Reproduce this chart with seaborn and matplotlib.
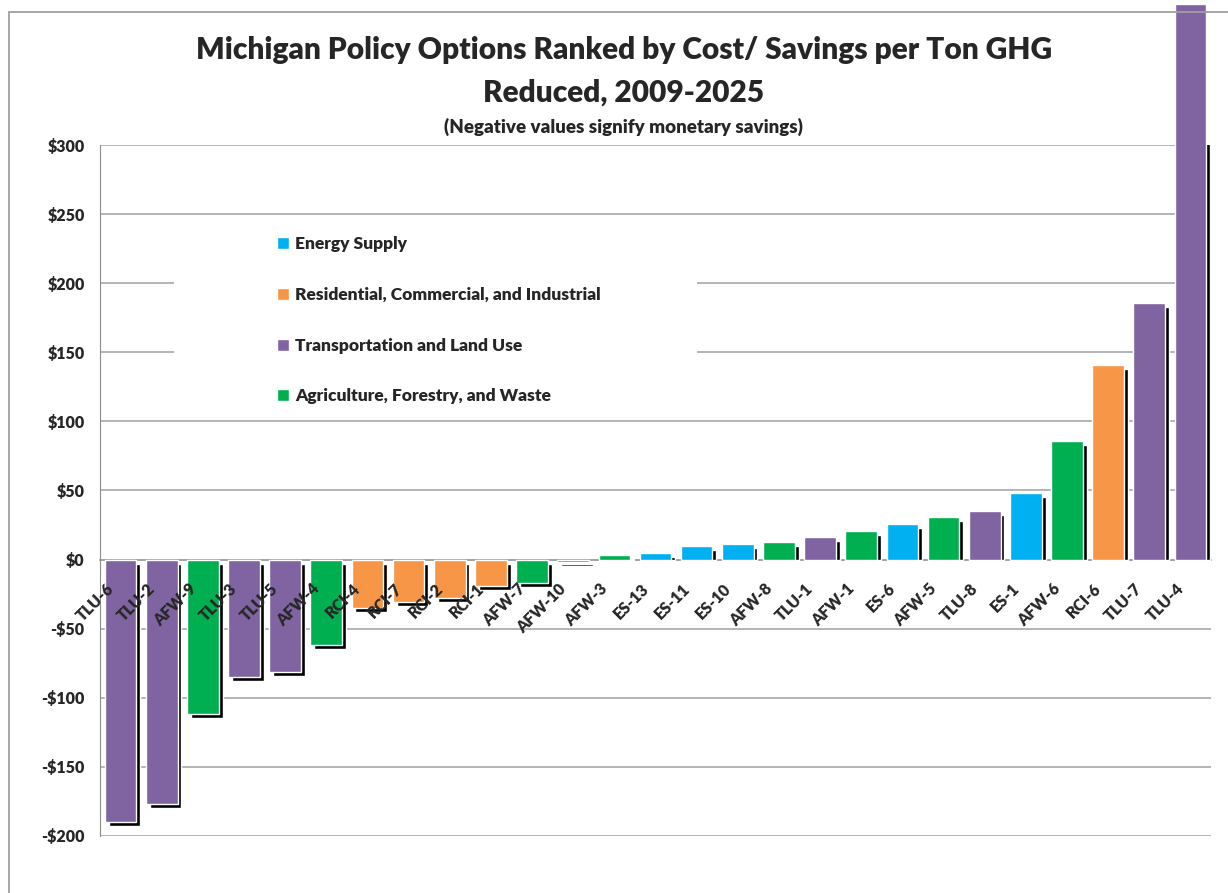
import matplotlib
matplotlib.use("Agg")
import matplotlib.pyplot as plt
import matplotlib.transforms as mtransforms
from matplotlib.patches import Rectangle
import seaborn as sns
import numpy as np
import pandas as pd

# policy options, ranked from biggest savings to biggest cost ($ per ton GHG)
options = ["TLU-6", "TLU-2", "AFW-9", "TLU-3", "TLU-5", "AFW-4", "RCI-4", "RCI-7",
           "RCI-2", "RCI-1", "AFW-7", "AFW-10", "AFW-3", "ES-13", "ES-11", "ES-10",
           "AFW-8", "TLU-1", "AFW-1", "ES-6", "AFW-5", "TLU-8", "ES-1", "AFW-6",
           "RCI-6", "TLU-7", "TLU-4"]
cost = [-190, -177, -112, -85, -81, -62, -35, -31,
        -28, -19, -17, -2, 3, 4.5, 9.5, 11,
        12.5, 16, 21, 26, 30.5, 35.5, 48, 85.5,
        140.5, 185.5, 402]
sector_codes = {"ES": "Energy Supply",
                "RCI": "Residential, Commercial, and Industrial",
                "TLU": "Transportation and Land Use",
                "AFW": "Agriculture, Forestry, and Waste"}
sector_order = list(sector_codes.values())
sector_colors = ["#00B0F0", "#F79646", "#8064A2", "#00B050"]
ytick_vals = [-200, -150, -100, -50, 0, 50, 100, 150, 200, 250, 300]

df = pd.DataFrame({"option": options, "cost": cost})
df["sector"] = [sector_codes[o.split("-")[0]] for o in options]

sns.set_style("white")
plt.rcParams["font.family"] = ["Lato", "DejaVu Sans"]
plt.rcParams["font.weight"] = "heavy"

fig = plt.figure(figsize=(12.28, 8.93), dpi=100)
ax = fig.add_axes([100 / 1228, 1 - 836 / 893, 1111 / 1228, 691 / 893])

sns.barplot(data=df, x="option", y="cost", hue="sector", hue_order=sector_order,
            palette=sector_colors, dodge=False, width=0.77, saturation=1, ax=ax)

for p in ax.patches:
    p.set_zorder(3)
    if p.get_height() > 300:
        p.set_clip_on(False)   # TLU-4 runs off the top like in the original

# black drop shadow behind each bar (shifted right and down)
n = len(options)
dx = 0.093
dy = 2.9
vals = np.array(cost, dtype=float)
shadow_bottom = np.where(vals < 0, -dy, 0)
shadow_height = np.where(vals < 0, vals, np.maximum(vals - dy, 0))
ax.bar(np.arange(n) + dx, shadow_height, bottom=shadow_bottom, width=0.77,
       color="black", zorder=2)

ax.set_ylim(-200, 300)
ax.set_xlim(-0.5, n - 0.5)
ax.set_yticks(ytick_vals)
ax.set_yticklabels([f"-${-v}" if v < 0 else f"${v}" for v in ytick_vals])
ax.set_xlabel("")
ax.set_ylabel("")

ax.set_axisbelow(True)
ax.yaxis.grid(True, color="#a0a0a0", linewidth=1.1)
ax.xaxis.grid(False)

for s in ["top", "right"]:
    ax.spines[s].set_visible(False)
ax.spines["left"].set_color("#8c8c8c")
ax.spines["bottom"].set_position(("data", 0))
ax.spines["bottom"].set_color("#a0a0a0")
ax.spines["bottom"].set_linewidth(1.1)
ax.spines["bottom"].set_zorder(1)

# option names sit on top of the bars, just under the zero line
ax.xaxis.set_zorder(5)
ax.tick_params(axis="y", length=0, pad=11, labelsize=11.5)
ax.tick_params(axis="x", length=0, pad=15, labelsize=11.5)
shift = mtransforms.ScaledTranslation(-0.15, 0, fig.dpi_scale_trans)
for lab in ax.get_xticklabels():
    lab.set_rotation(45)
    lab.set_ha("right")
    lab.set_va("top")
    lab.set_rotation_mode("anchor")
    lab.set_fontweight("heavy")
    lab.set_transform(lab.get_transform() + shift)
for lab in ax.get_yticklabels():
    lab.set_fontweight("heavy")

# white block behind the legend hides the gridlines there
ax.add_patch(Rectangle(((174 - 100) / 1111, 1 - (415 - 145) / 691), 523 / 1111, 193 / 691,
                       transform=ax.transAxes, facecolor="white", edgecolor="none", zorder=1))
handles, labels = ax.get_legend_handles_labels()
ax.legend(handles, labels, loc="upper left", bbox_to_anchor=(0.1593, 0.868),
          frameon=False, borderpad=0, borderaxespad=0,
          handlelength=0.68, handleheight=0.68, handletextpad=0.35,
          labelspacing=2.0, prop={"weight": "heavy", "size": 12.5})

fig.text(0.508, 1 - 50 / 893, "Michigan Policy Options Ranked by Cost/ Savings per Ton GHG",
         ha="center", va="center", fontsize=21.5, fontweight="heavy")
fig.text(0.508, 1 - 93 / 893, "Reduced, 2009-2025",
         ha="center", va="center", fontsize=21.5, fontweight="heavy")
fig.text(0.508, 1 - 127 / 893, "(Negative values signify monetary savings)",
         ha="center", va="center", fontsize=13.5, fontweight="heavy")

# outer chart border
fig.add_artist(Rectangle((9 / 1228, -0.2), 2, 1.2 - 12 / 893, transform=fig.transFigure,
                         fill=False, edgecolor="#a0a0a0", linewidth=1.3))

fig.savefig("out.png", dpi=100)
